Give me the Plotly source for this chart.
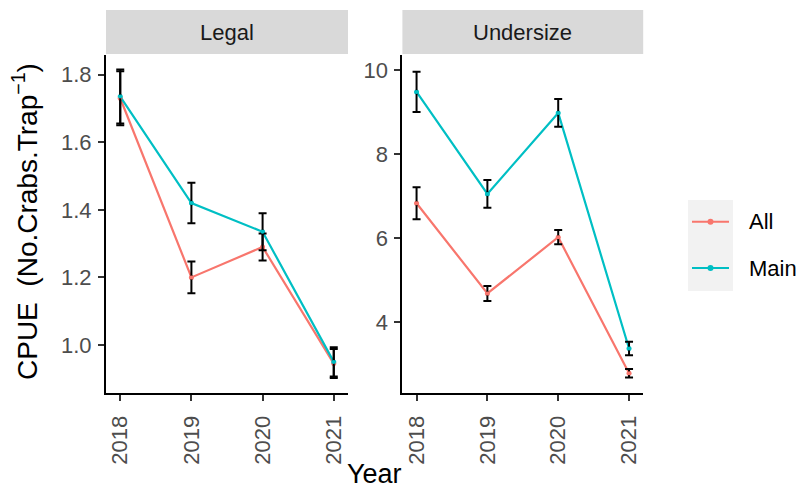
import plotly.graph_objects as go

# CPUE by year, two size classes, two series each
years = [2018, 2019, 2020, 2021]
panels = ["Legal", "Undersize"]
series = ["All", "Main"]

legal_all = [1.73, 1.20, 1.29, 0.945]
legal_all_err = [0.08, 0.047, 0.04, 0.043]
legal_main = [1.735, 1.42, 1.335, 0.95]
legal_main_err = [0.08, 0.06, 0.055, 0.043]

under_all = [6.83, 4.68, 6.02, 2.78]
under_all_err = [0.38, 0.18, 0.17, 0.10]
under_main = [9.48, 7.05, 8.98, 3.37]
under_main_err = [0.48, 0.33, 0.33, 0.16]

legal_ticks = [1.0, 1.2, 1.4, 1.6, 1.8]
under_ticks = [4, 6, 8, 10]

colors = {"All": "#F8766D", "Main": "#00BFC4"}
FONT = "Liberation Sans, Arial, sans-serif"

fig = go.Figure()

data = [
    ("x", "y", "All", legal_all, legal_all_err),
    ("x", "y", "Main", legal_main, legal_main_err),
    ("x2", "y2", "All", under_all, under_all_err),
    ("x2", "y2", "Main", under_main, under_main_err),
]

# lines with points
for xa, ya, name, vals, errs in data:
    fig.add_trace(go.Scatter(
        x=years, y=vals, xaxis=xa, yaxis=ya, name=name,
        mode="lines+markers",
        line=dict(color=colors[name], width=2.2),
        marker=dict(color=colors[name], size=5),
        showlegend=False,
    ))

# error bars drawn on top
for xa, ya, name, vals, errs in data:
    fig.add_trace(go.Scatter(
        x=years, y=vals, xaxis=xa, yaxis=ya, name=name,
        mode="markers",
        marker=dict(color=colors[name], size=4),
        error_y=dict(type="data", array=errs, visible=True,
                     color="black", thickness=2, width=4),
        showlegend=False,
    ))

tick_font = dict(family=FONT, size=22, color="#4D4D4D")

xcommon = dict(
    range=[2017.8, 2021.2], tickvals=years, ticktext=[str(y) for y in years],
    tickangle=-90, ticks="outside", ticklen=6, tickwidth=1.5, tickcolor="#333333",
    ticklabelstandoff=6,
    showline=True, linecolor="black", linewidth=2, showgrid=False, zeroline=False,
    tickfont=tick_font,
)
ycommon = dict(
    ticks="outside", ticklen=6, tickwidth=1.5, tickcolor="#333333",
    ticklabelstandoff=2,
    showline=True, linecolor="black", linewidth=2, showgrid=False, zeroline=False,
    tickfont=tick_font,
)

fig.update_layout(
    width=800, height=491,
    margin=dict(l=0, r=0, t=0, b=0),
    paper_bgcolor="white", plot_bgcolor="white",
    font=dict(family=FONT),
    xaxis=dict(xcommon, domain=[0.1325, 0.435], anchor="y"),
    xaxis2=dict(xcommon, domain=[0.503, 0.804], anchor="y2"),
    yaxis=dict(ycommon, domain=[0.1996, 0.888], anchor="x",
               range=[0.858, 1.858], tickvals=legal_ticks,
               ticktext=[f"{v:.1f}" for v in legal_ticks]),
    yaxis2=dict(ycommon, domain=[0.1996, 0.888], anchor="x2",
                range=[2.31, 10.36], tickvals=under_ticks,
                ticktext=[str(v) for v in under_ticks]),
    showlegend=False,
)

# facet strips
shapes = []
annotations = []
strip_doms = [(0.1325, 0.435), (0.503, 0.804)]
for (x0, x1), label in zip(strip_doms, panels):
    shapes.append(dict(type="rect", xref="paper", yref="paper",
                       x0=x0, x1=x1, y0=0.890, y1=0.9796,
                       fillcolor="#D9D9D9", line=dict(width=0), layer="below"))
    annotations.append(dict(text=label, xref="paper", yref="paper",
                            x=(x0 + x1) / 2, y=(0.890 + 0.9796) / 2,
                            showarrow=False, xanchor="center", yanchor="middle",
                            font=dict(family=FONT, size=22, color="#1A1A1A")))

# axis titles
annotations.append(dict(text="Year", xref="paper", yref="paper",
                        x=374.5 / 800, y=0, showarrow=False,
                        xanchor="center", yanchor="bottom",
                        font=dict(family=FONT, size=27, color="black")))
annotations.append(dict(text="CPUE  (No.Crabs.Trap<sup>\u22121</sup>)",
                        xref="paper", yref="paper",
                        x=25 / 800, y=1 - 222 / 491, showarrow=False,
                        textangle=-90, xanchor="center", yanchor="middle",
                        font=dict(family=FONT, size=28, color="black")))

# legend key
shapes.append(dict(type="rect", xref="paper", yref="paper",
                   x0=688 / 800, x1=733 / 800, y0=1 - 291 / 491, y1=1 - 200 / 491,
                   fillcolor="#F2F2F2", line=dict(width=0)))
for name, yc in zip(series, [221.7, 268.0]):
    yp = 1 - yc / 491
    shapes.append(dict(type="line", xref="paper", yref="paper",
                       x0=692 / 800, x1=729 / 800, y0=yp, y1=yp,
                       line=dict(color=colors[name], width=2)))
    shapes.append(dict(type="circle", xref="paper", yref="paper",
                       x0=707.5 / 800, x1=713.5 / 800,
                       y0=yp - 3 / 491, y1=yp + 3 / 491,
                       fillcolor=colors[name], line=dict(width=0)))
    annotations.append(dict(text=name, xref="paper", yref="paper",
                            x=747 / 800, y=yp, showarrow=False,
                            xanchor="left", yanchor="middle",
                            font=dict(family=FONT, size=22, color="black")))

fig.update_layout(shapes=shapes, annotations=annotations)

fig.write_html("out.html")
